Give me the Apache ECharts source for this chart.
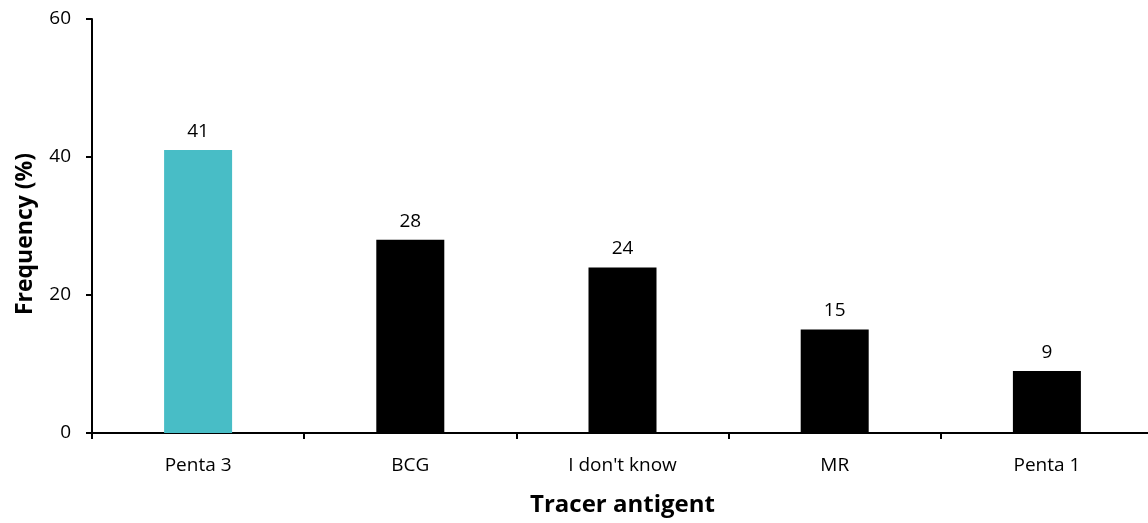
<!DOCTYPE html>
<html><head><meta charset="utf-8">
<script src="https://cdn.jsdelivr.net/npm/echarts@6/dist/echarts.min.js"></script>
<style>html,body{margin:0;padding:0;background:#fff}#c{width:1148px;height:523px}</style>
</head><body><div id="c"></div>
<script>
const categories = ["Penta 3", "BCG", "I don't know", "MR", "Penta 1"];
const values = [41, 28, 24, 15, 9];
const barColors = ["#48BDC6", "#000000", "#000000", "#000000", "#000000"];
const yTicks = [0, 20, 40, 60];

const font = "'Open Sans', 'Noto Sans', sans-serif";
const chart = echarts.init(document.getElementById('c'));
chart.setOption({
  animation: false,
  grid: { left: 92, width: 1061, top: 19, bottom: 90, outerBoundsMode: 'none', containLabel: false },
  xAxis: {
    type: 'category', data: categories,
    name: 'Tracer antigent', nameLocation: 'middle', nameGap: 60,
    nameTextStyle: { fontFamily: font, fontSize: 24, fontWeight: 'bold', color: '#000' },
    axisLine: { lineStyle: { color: '#000', width: 2 } },
    axisTick: { show: true, length: 6, lineStyle: { color: '#000', width: 2 } },
    axisLabel: { fontFamily: font, fontSize: 19, color: '#000', margin: 23 }
  },
  yAxis: {
    type: 'value', min: yTicks[0], max: yTicks[yTicks.length - 1], interval: 20,
    name: 'Frequency (%)', nameLocation: 'middle', nameGap: 55,
    nameTextStyle: { fontFamily: font, fontSize: 23, fontWeight: 'bold', color: '#000', padding: [0, 16, 0, 0] },
    axisLine: { show: true, lineStyle: { color: '#000', width: 2 } },
    axisTick: { show: true, length: 6, lineStyle: { color: '#000', width: 2 } },
    axisLabel: { fontFamily: font, fontSize: 19, color: '#000', margin: 21 },
    splitLine: { show: false }
  },
  series: [{
    type: 'bar', barWidth: 68,
    data: values.map((v, i) => ({ value: v, itemStyle: { color: barColors[i] } })),
    label: { show: true, position: 'top', distance: 9, fontFamily: font, fontSize: 19, color: '#000' }
  }]
});
</script></body></html>
